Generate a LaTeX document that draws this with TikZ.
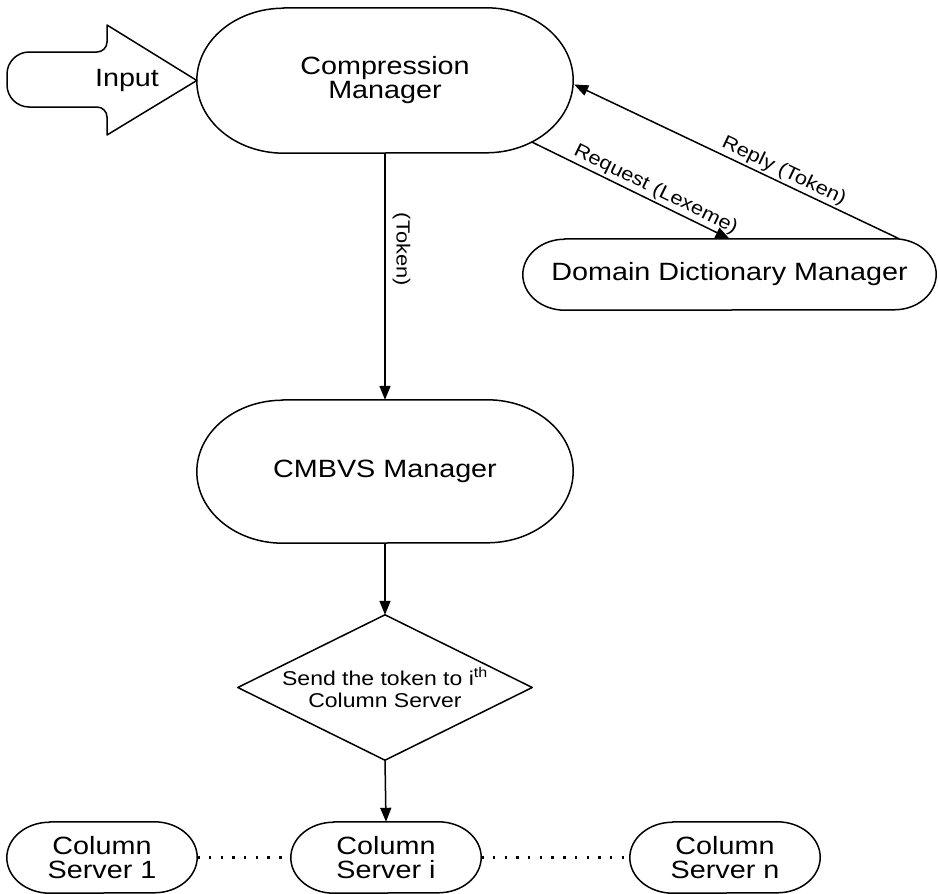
\documentclass[tikz,border=0pt]{standalone}
\usepackage{fontspec}
\setmainfont[FakeStretch=1.15]{Liberation Sans}
\usetikzlibrary{arrows.meta,calc}

\newcommand{\mainsize}{\fontsize{25pt}{24pt}\selectfont}
\newcommand{\lblsize}{\fontsize{19pt}{20pt}\selectfont}
\newcommand{\decsize}{\fontsize{20pt}{22pt}\selectfont}

% terminator outline around a named node: #1 name, #2 end x-radius, #3 end y-radius
\newcommand{\terminal}[3]{%
  \draw[outline] ([xshift=#2pt]#1.north west) -- ([xshift=-#2pt]#1.north east)
    arc[start angle=90,end angle=-90,x radius=#2pt,y radius=#3pt]
    -- ([xshift=#2pt]#1.south west)
    arc[start angle=270,end angle=90,x radius=#2pt,y radius=#3pt] -- cycle;}

\tikzset{
  outline/.style={line width=1.5pt, line join=round},
  box/.style={inner sep=0pt, align=center, font=\mainsize},
  flow/.style={line width=1.5pt, -{Triangle[length=14pt,width=11pt]}},
  flowback/.style={line width=1.5pt, {Triangle[length=14pt,width=11pt]}-},
  link/.style={line width=2.4pt, dash pattern=on 2.4pt off 9.3pt},
  lbl/.style={font=\lblsize, inner sep=2pt}
}

\begin{document}
\begin{tikzpicture}[x=1pt, y=-1pt]
\useasboundingbox (0,0) rectangle (938,894);

% nodes
\node[box, minimum width=376pt, minimum height=145pt] (cm) at (385,80.5) {Compression\\Manager};
\node[box] (inp) at (127,80) {Input};
\node[box, minimum width=413pt, minimum height=71pt] (ddm) at (729.5,274.5) {Domain Dictionary Manager};
\node[box, minimum width=376pt, minimum height=143pt] (cmbvs) at (385,471.5) {CMBVS Manager};
\node[box, minimum width=294pt, minimum height=145pt, font=\decsize] (dec) at (385,687.5)
  {Send the token to i\textsuperscript{th}\\Column Server};
\node[box, minimum width=190pt, minimum height=71pt] (cs1) at (102,857.5) {Column\\Server 1};
\node[box, minimum width=190pt, minimum height=71pt] (csi) at (386,857.5) {Column\\Server i};
\node[box, minimum width=190pt, minimum height=71pt] (csn) at (725,857.5) {Column\\Server n};

% input block arrow
\draw[outline] (cm.west) -- (107,25) -- (107,42)
  .. controls (107,47.5) and (102.5,52) .. (97,52)
  -- (29,52) .. controls (17,52) and (7,62) .. (7,74)
  -- (7,85) .. controls (7,97) and (17,107) .. (29,107)
  -- (97,107) .. controls (102.5,107) and (107,111.5) .. (107,117)
  -- (107,135) -- cycle;

% outlines
\terminal{cm}{87}{72.5}
\terminal{ddm}{42}{35.5}
\terminal{cmbvs}{86}{71.5}
\terminal{cs1}{43}{35.5}
\terminal{csi}{43}{35.5}
\terminal{csn}{43}{35.5}
\draw[outline] (dec.north) -- (dec.east) -- (dec.south) -- (dec.west) -- cycle;

% connectors
\draw[flow] ($(cm.south east)+(-41,-11)$) -- node[lbl, sloped, above, pos=0.6] {Request (Lexeme)} (ddm.north);
\draw[flowback] ($(cm.east)+(1,4)$) -- node[lbl, sloped, above, pos=0.63] {Reply (Token)} ($(ddm.north east)+(-37,0)$);
\draw[flow] (cm.south) -- node[lbl, sloped, above=5pt, pos=0.39] {(Token)} (cmbvs.north);
\draw[flow] (cmbvs.south) -- (dec.north);
\draw[flow] (dec.south) -- (csi.north);
\draw[link] (cs1.east) -- (csi.west);
\draw[link] (csi.east) -- (csn.west);
\end{tikzpicture}
\end{document}
